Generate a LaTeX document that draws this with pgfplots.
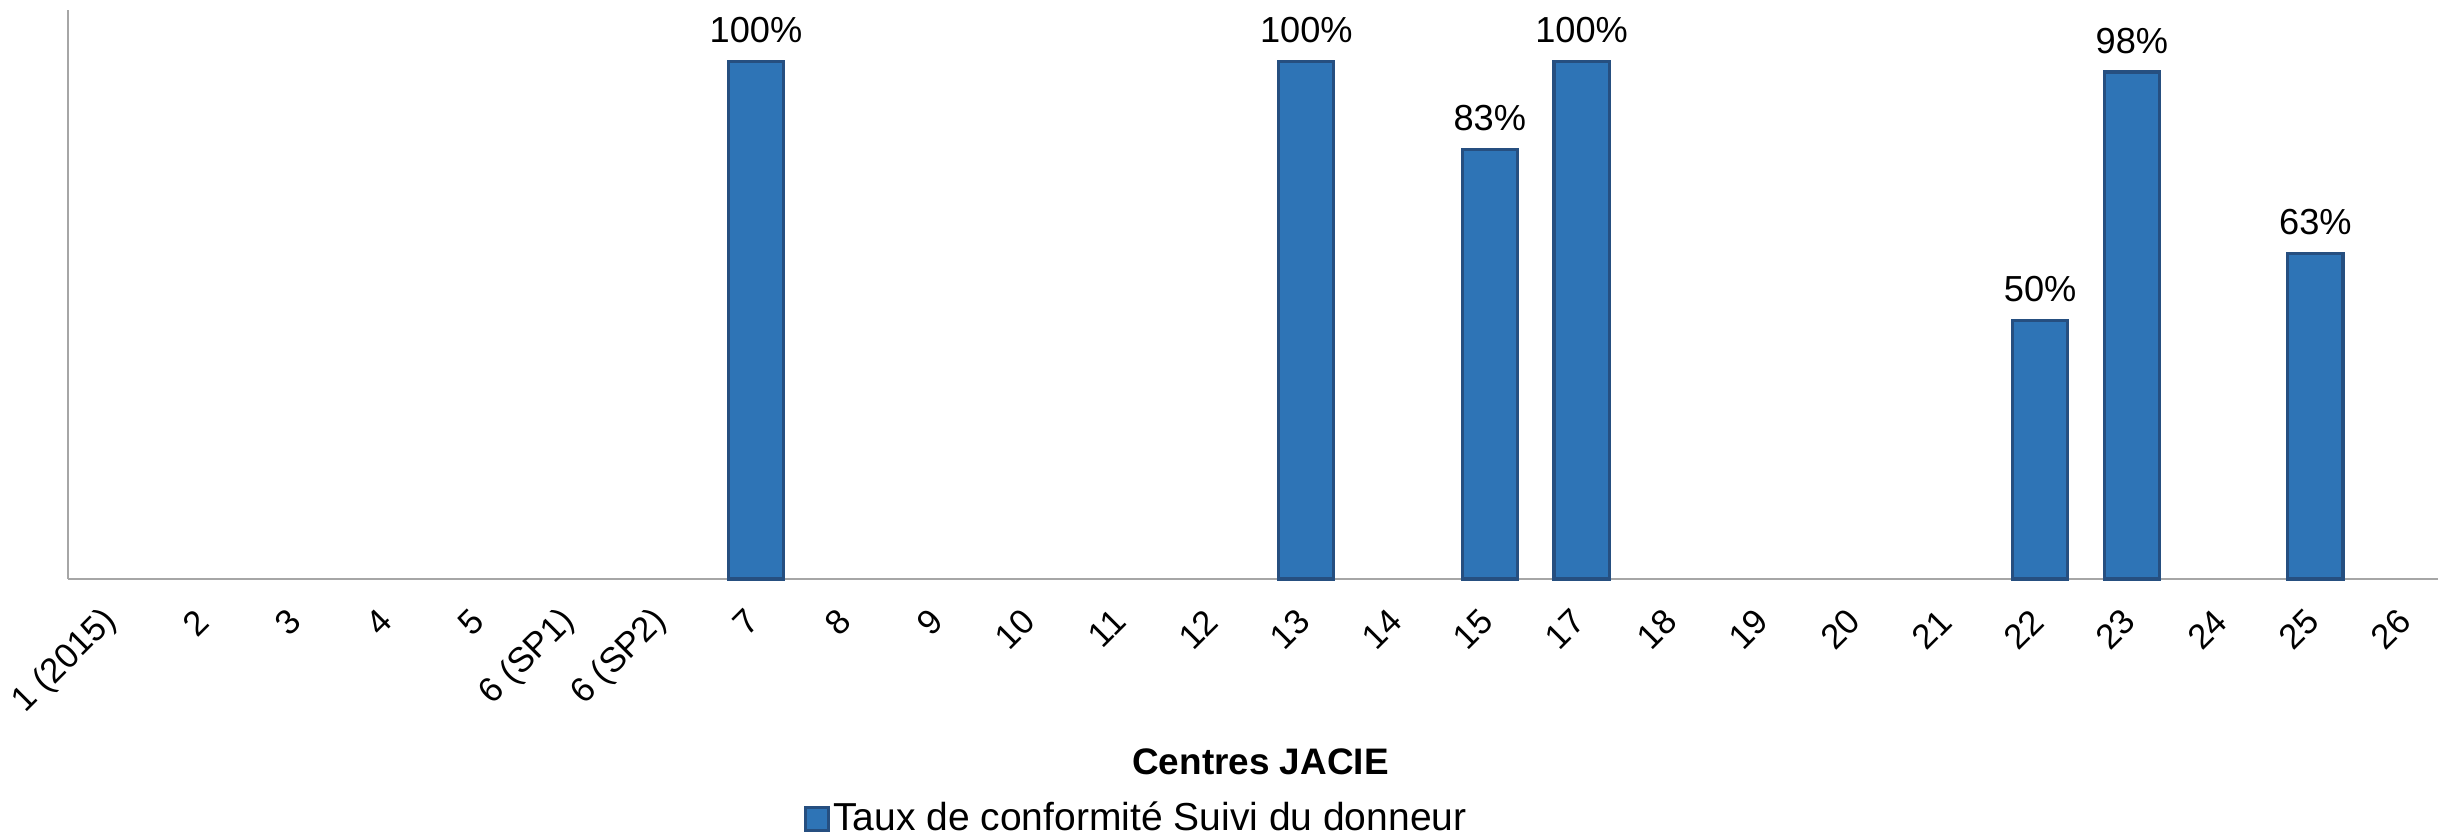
\documentclass[border=0pt]{standalone}
\usepackage{pgfplots}
\pgfplotsset{compat=1.18}
\usepackage{fontspec}
\setmainfont{Liberation Sans}
\definecolor{barfill}{RGB}{46,116,182}
\definecolor{baredge}{RGB}{38,79,128}
\definecolor{axisgray}{RGB}{166,166,166}
\begin{document}
\begin{tikzpicture}
\begin{axis}[
  scale only axis, width=238.5mm, height=56.9mm,
  xmin=-0.5, xmax=25.5, ymin=0, ymax=110,
  axis x line=bottom, axis y line=left,
  axis line style={draw=axisgray, line width=0.6pt, -},
  xtick={0,...,25},
  xticklabels={1 (2015),2,3,4,5,6 (SP1),6 (SP2),7,8,9,10,11,12,13,14,15,17,18,19,20,21,22,23,24,25,26},
  ytick=\empty,
  major tick length=0pt,
  xticklabel style={rotate=45, anchor=east, font=\fontsize{9.9}{11}\selectfont, xshift=-1.56mm, yshift=-2.4mm},
  xlabel={\textbf{Centres JACIE}},
  every axis x label/.style={at={(axis description cs:0.5,0)}, anchor=center, yshift=-18.3mm, font=\fontsize{10.5}{12}\selectfont},
  legend style={at={(axis description cs:0,0)}, anchor=center, xshift=106.9mm, yshift=-24mm, draw=none, fill=none, inner sep=0pt, nodes={inner sep=0.35mm}, font=\fontsize{11.1}{13}\selectfont},
  legend image code/.code={\draw[fill=barfill, draw=baredge, line width=0.8pt] (0mm,-1.15mm) rectangle (2.3mm,1.15mm);},
  /pgf/number format/assume math mode=true,
  nodes near coords={\pgfmathprintnumber{\pgfplotspointmeta}\%},
  every node near coord/.append style={anchor=base, yshift=1.9mm, font=\fontsize{10.3}{12}\selectfont, text=black},
  clip=false,
]
\addplot[ybar, bar width=0.6, fill=barfill, draw=baredge, line width=0.9pt]
  coordinates {(7,100) (13,100) (15,83) (16,100) (21,50) (22,98) (24,63)};
\addlegendentry{Taux de conformité Suivi du donneur}
\end{axis}
\pgfresetboundingbox
\path (-6.8mm,-25.6mm) rectangle (237mm,57.9mm);
\end{tikzpicture}
\end{document}
